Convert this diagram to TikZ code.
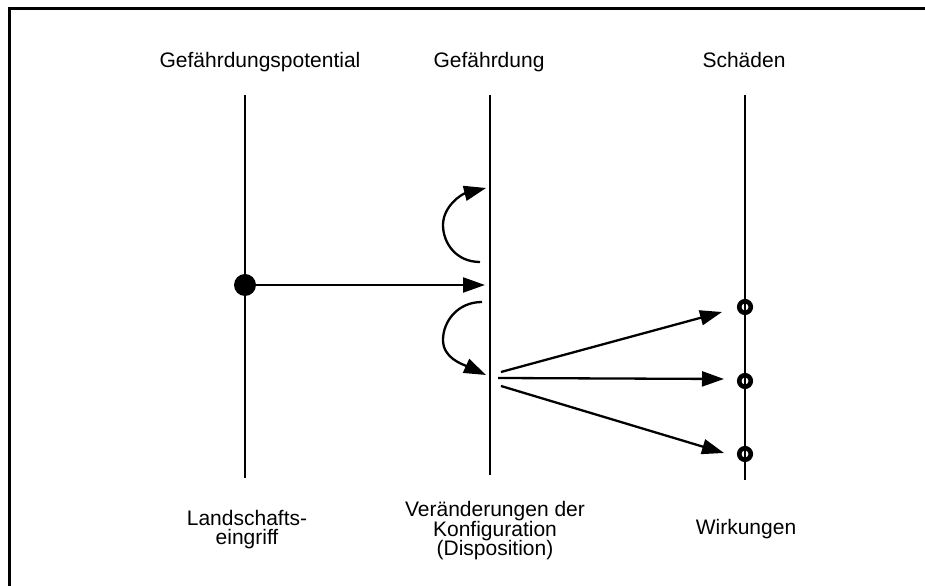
\documentclass[tikz,border=0pt]{standalone}
\usepackage{fontspec}
\setmainfont{Liberation Sans}
\usetikzlibrary{arrows.meta}
% caption lines are set tighter than the font size
\newcommand\capfnt{\fontsize{21bp}{19.4bp}\selectfont\lineskiplimit=-20pt\relax}
\begin{document}
\begin{tikzpicture}[x=1bp,y=1bp,
  frame/.style={line width=3bp},
  axis/.style={line width=2.6bp},
  lbl/.style={font=\fontsize{21bp}{28bp}\selectfont, inner sep=0pt, align=center},
  captxt/.style={font=\capfnt, inner sep=0pt, align=center},
  arr/.style={line width=2.3bp, -{Triangle[length=22bp,width=15bp]}},
  dot/.style={circle, fill=black, inner sep=0pt, minimum size=22bp},
  ring/.style={circle, draw=black, line width=4.6bp, inner sep=0pt, minimum size=11.5bp},
]
\useasboundingbox (0,0) rectangle (925,586);

% frame (top and left edges)
\draw[frame] (9,-5) -- (9,577) -- (930,577);

% column headings
\node[lbl, anchor=base] (hPot) at (260,518) {Gefährdungspotential};
\node[lbl, anchor=base] (hGef) at (489,518) {Gefährdung};
\node[lbl, anchor=base] (hSch) at (744,518) {Schäden};

% the three axes
\coordinate (potT) at (245,491); \coordinate (potB) at (245,108);
\coordinate (gefT) at (490,491); \coordinate (gefB) at (490,111);
\coordinate (schT) at (745,491); \coordinate (schB) at (745,106);
\draw[axis] (potT) -- (potB);
\draw[axis] (gefT) -- (gefB);
\draw[axis] (schT) -- (schB);

% intervention point and its effect on the hazard axis
\node[dot] (src) at (245,301) {};
\coordinate (gefIn) at (485,301);
\draw[arr] (src.center) -- (gefIn);

% feedback loops on the hazard axis
\coordinate (up0) at (480,324); \coordinate (up1) at (443,361); \coordinate (up2) at (486,398);
\draw[arr] (up0) .. controls (456,324) and (443,343) .. (up1)
           .. controls (443,380) and (462,392) .. (up2);
\coordinate (lo0) at (482,284); \coordinate (lo1) at (443,246); \coordinate (lo2) at (486,211);
\draw[arr] (lo0) .. controls (458,284) and (443,265) .. (lo1)
           .. controls (443,228) and (462,222) .. (lo2);

% damage points
\node[ring] (w1) at (745,279) {};
\node[ring] (w2) at (745,205) {};
\node[ring] (w3) at (745,132) {};

% fan of effects towards the damage points
\coordinate (s1) at (501,214); \coordinate (e1) at (722,274);
\coordinate (s2) at (498,208); \coordinate (e2) at (724,207);
\coordinate (s3) at (501,200); \coordinate (e3) at (724,133);
\draw[arr] (s1) -- (e1);
\draw[arr] (s2) -- (e2);
\draw[arr] (s3) -- (e3);

% bottom captions
\node[captxt, anchor=north] (cPot) at (247,76) {Landschafts-\\eingriff};
\node[captxt, anchor=north] (cGef) at (495,84.5) {Veränderungen der\\Konfiguration\\(Disposition)};
\node[captxt, anchor=base] (cSch) at (746,51) {Wirkungen};
\end{tikzpicture}
\end{document}
